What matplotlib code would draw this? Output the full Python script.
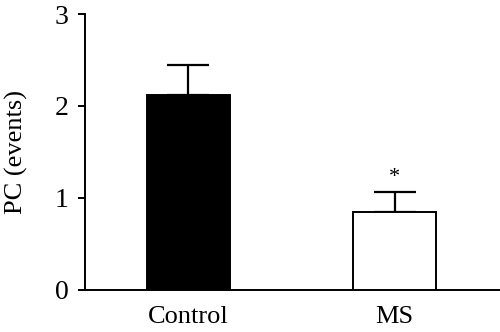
import matplotlib
matplotlib.use("Agg")
import matplotlib.pyplot as plt
import numpy as np

groups = ["Control", "MS"]
pc_mean = [2.12, 0.85]
pc_sem = [0.32, 0.21]
bar_colors = ["black", "white"]

plt.rcParams["font.family"] = ["Liberation Serif", "DejaVu Serif"]

fig = plt.figure(figsize=(5.0, 3.32), dpi=100)
ax = fig.add_axes([0.17, 0.1274, 0.83, 0.8304])

x = np.arange(len(groups))
ax.bar(x, pc_mean, width=0.4, color=bar_colors, edgecolor="black", linewidth=1.4, zorder=3)
ax.errorbar(x, pc_mean, yerr=[np.zeros(len(x)), pc_sem], fmt="none",
            ecolor="black", elinewidth=1.6, capsize=15, capthick=1.6, zorder=2)

# significance mark over the MS bar
ax.annotate("*", xy=(x[1], pc_mean[1] + pc_sem[1]), xytext=(0, 4),
            textcoords="offset points", ha="center", va="bottom", fontsize=16)

ax.set_xlim(-0.5, 1.51)
ax.set_ylim(0, 3)
ax.set_yticks([0, 1, 2, 3])
ax.set_xticks(x)
ax.set_xticklabels(groups)
ax.set_ylabel("PC (events)", fontsize=19)
ax.yaxis.set_label_coords(-0.138, 0.5)

ax.tick_params(axis="y", length=5, width=1.4, labelsize=20, pad=7)
ax.tick_params(axis="x", length=0, labelsize=19, pad=12)
ax.spines["top"].set_visible(False)
ax.spines["right"].set_visible(False)
ax.spines["left"].set_linewidth(1.4)
ax.spines["bottom"].set_linewidth(1.4)
ax.spines["left"].set_bounds(0, 3)

fig.savefig("out.png", dpi=100)
